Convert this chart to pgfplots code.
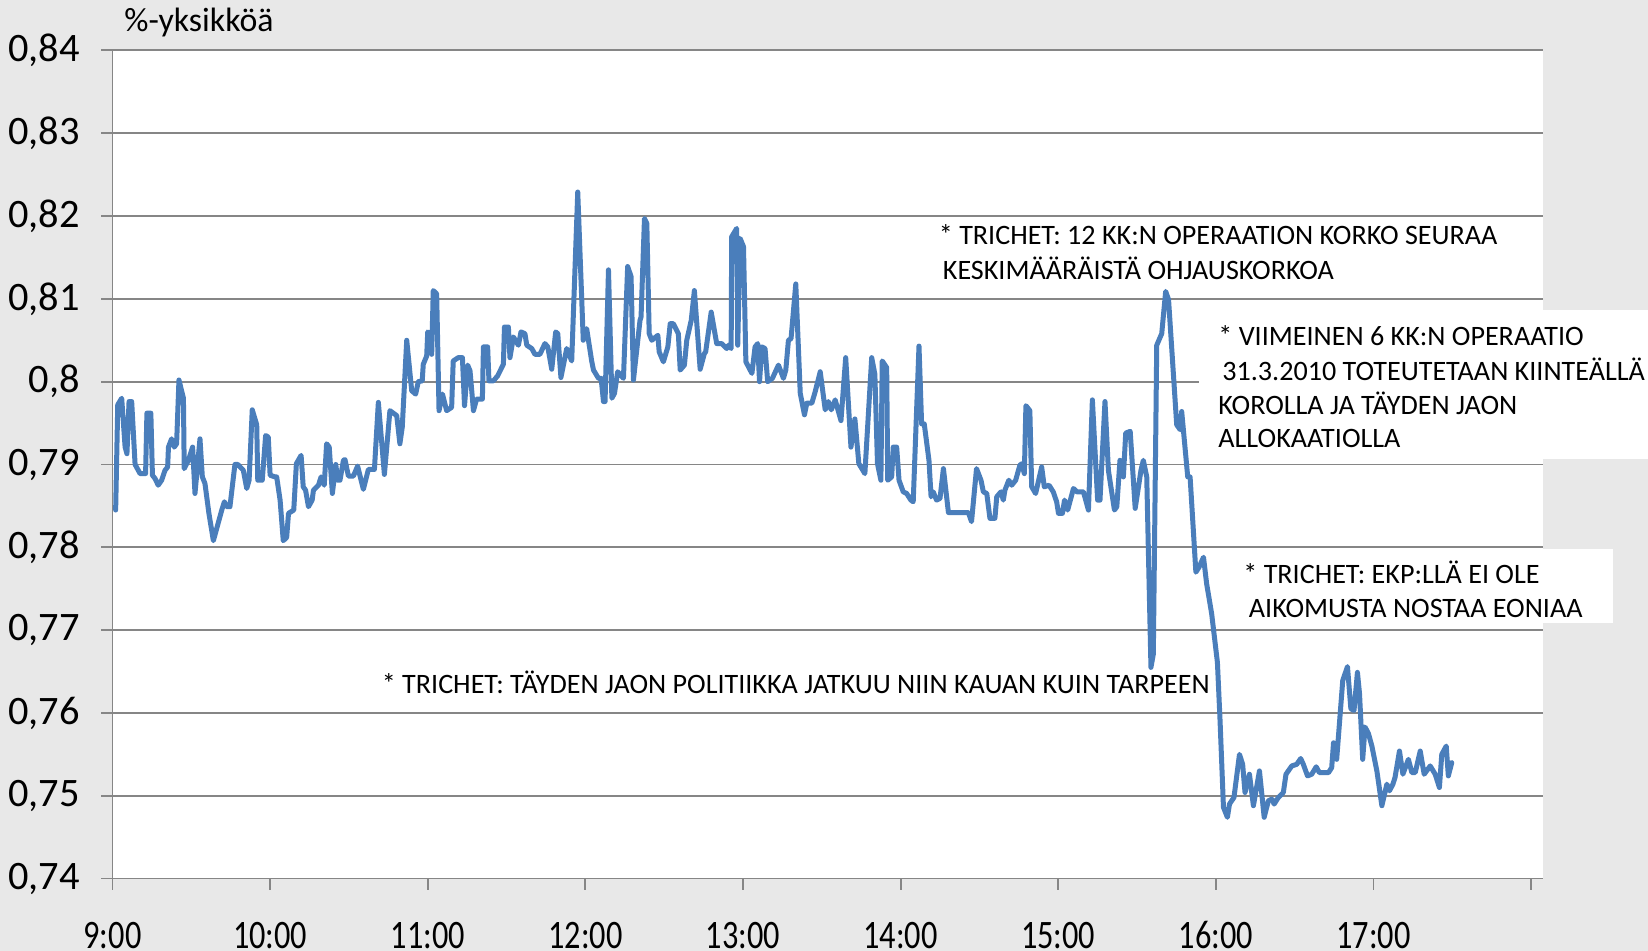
\documentclass[border=0pt]{standalone}
\usepackage{fontspec}
\setmainfont{Carlito}
\usepackage{graphicx}
\usepackage{pgfplots}
\pgfplotsset{compat=1.18}
\definecolor{bgc}{RGB}{232,232,232}
\definecolor{gridc}{RGB}{134,134,134}
\definecolor{linec}{RGB}{74,126,187}
\newcommand{\annfont}{\fontsize{14.05}{16.8}\selectfont}
\newcommand{\xl}[1]{\scalebox{0.8}[1]{#1}}
\begin{document}
\begin{tikzpicture}
\path[use as bounding box] (-56.25pt,-36.2pt) rectangle (767.75pt,439.3pt);
\fill[bgc] (-56.25pt,-36.2pt) rectangle (767.75pt,439.3pt);
\begin{axis}[
  at={(0pt,0pt)}, anchor=south west,
  scale only axis, width=715.2pt, height=414.1pt,
  xmin=0, xmax=544.5, ymin=0.74, ymax=0.84,
  axis lines*=left,
  axis line style={gridc, line width=0.9pt},
  axis background/.style={fill=white},
  ymajorgrids, major grid style={gridc, line width=0.9pt},
  tick align=outside, major tick length=5.5pt,
  tick style={gridc, line width=0.9pt},
  ytick={0.74,0.75,0.76,0.77,0.78,0.79,0.80,0.81,0.82,0.83,0.84},
  yticklabels={{0,74},{0,75},{0,76},{0,77},{0,78},{0,79},{0,8},{0,81},{0,82},{0,83},{0,84}},
  xtick={0,60,120,180,240,300,360,420,480,540},
  xticklabels={\xl{9:00},\xl{10:00},\xl{11:00},\xl{12:00},\xl{13:00},\xl{14:00},\xl{15:00},\xl{16:00},\xl{17:00},{}},
  ticklabel style={font=\fontsize{20.2}{24}\selectfont, text=black},
  yticklabel style={inner sep=0pt, xshift=-10.6pt},
  xticklabel style={inner sep=0pt, yshift=-16.5pt, text height=12.7pt, text depth=0pt},
  clip=false,
]
\addplot[linec, line width=2.5pt, line join=round, line cap=round] coordinates {
(1.2,0.7845) (2,0.7972) (3.5,0.798) (4.8,0.7921) (5.5,0.7913) (6.3,0.7976) (7.3,0.7976) (8.6,0.790)
(10.5,0.7889) (12.6,0.7889) (13.1,0.7962) (14.6,0.7962) (15.2,0.7887) (16.2,0.7883) (17.4,0.7875)
(18.7,0.7881) (20,0.7893) (21,0.7897) (21.3,0.7921) (22.5,0.7931) (23.5,0.7921) (24.4,0.7925)
(25.3,0.8002) (27,0.798) (27.3,0.7895) (28.9,0.7905) (30.5,0.7921) (31.4,0.7865) (33.3,0.7931)
(34.2,0.7885) (35.2,0.7877) (36.7,0.7841) (38.4,0.7808) (40.3,0.783) (41.6,0.7845) (42.6,0.7855)
(43.5,0.7849) (44.7,0.7849) (46.6,0.790) (47.7,0.790) (49.8,0.7893) (51.1,0.7871) (52,0.7881)
(53.2,0.7966) (54.9,0.7948) (55.3,0.7881) (57,0.7881) (58.3,0.7935) (59.3,0.7933) (60,0.7887)
(61.9,0.7885) (62.5,0.7885) (63.8,0.7857) (65,0.7808) (66.3,0.7812) (67,0.7841) (69,0.7845)
(70,0.7901) (71.8,0.7911) (72.6,0.7873) (73.5,0.7869) (74.6,0.7849) (76,0.7857) (76.5,0.7869)
(78.4,0.7875) (79.4,0.7885) (80.6,0.7875) (81.5,0.7925) (82.5,0.7921) (83.7,0.7865) (85,0.790)
(85.7,0.7881) (86.6,0.7881) (87.9,0.7905) (88.5,0.7906) (89.8,0.7886) (91.7,0.7886) (93.3,0.7898)
(95.5,0.787) (97.4,0.7894) (99.7,0.7894) (101.2,0.7975) (103.5,0.7888) (105.6,0.7965) (108.2,0.7959)
(109.4,0.7925) (110.3,0.7945) (112,0.805) (113.9,0.7989) (115.4,0.7985) (116.4,0.80) (117.9,0.8001)
(118.3,0.8021) (119.6,0.8031) (120,0.806) (120.9,0.8058) (121.5,0.8033) (122.1,0.811) (123.4,0.8106)
(124.3,0.7965) (125.6,0.7985) (127.2,0.7965) (129.1,0.7969) (129.7,0.8025) (131.6,0.8029)
(133.2,0.8029) (134,0.7971) (135.2,0.802) (136.1,0.8013) (137.4,0.7965) (138.6,0.7979) (140.8,0.7979)
(141.2,0.8042) (142.8,0.8042) (143.3,0.8001) (145,0.8001) (146.6,0.8007) (148.8,0.8021) (149.2,0.8066)
(150.7,0.8066) (151.3,0.8029) (152.6,0.8054) (154.5,0.8044) (155.5,0.806) (157,0.8058) (157.7,0.8044)
(159.6,0.804) (160.8,0.8033) (162.7,0.8033) (164.6,0.8046) (165.7,0.8042) (167.2,0.8015) (168.7,0.806)
(169.5,0.8058) (170.7,0.8005) (172.9,0.804) (174.8,0.8025) (177.1,0.8229) (179.2,0.805) (180.5,0.8064)
(182.4,0.8025) (183.1,0.8014) (185,0.8004) (186,0.8004) (186.9,0.7976) (187.5,0.7976) (188.8,0.8135)
(190.1,0.798) (191.1,0.7986) (192.3,0.8012) (194.5,0.8004) (196.1,0.8139) (197.4,0.8127) (198.3,0.8002)
(200.8,0.8074) (201.2,0.8078) (202.5,0.8197) (203.4,0.8191) (204.3,0.8058) (205.3,0.805) (207.6,0.8056)
(208.1,0.8036) (209.7,0.8024) (211.4,0.8042) (212.3,0.807) (213.5,0.807) (215.4,0.8058) (216.1,0.8014)
(217.7,0.802) (218.6,0.805) (220.3,0.8074) (221.5,0.811) (223.7,0.8015) (225.3,0.8034) (225.8,0.8036)
(227.9,0.8084) (230,0.8046) (231.9,0.8046) (233.8,0.804) (234.5,0.8044) (235.5,0.804) (235.7,0.8175)
(237.6,0.8185) (238,0.8044) (238.9,0.8173) (240.2,0.8163) (241.1,0.8024) (243.4,0.801) (244.6,0.8042)
(245.6,0.8046) (246.3,0.80) (247.2,0.8042) (248.4,0.804) (249.4,0.80) (251.2,0.8004) (253.5,0.802)
(255.4,0.8004) (256.3,0.8014) (257.3,0.805) (258.3,0.8052) (260.1,0.8118) (261.8,0.7986) (263.4,0.796)
(264.3,0.7974) (266.2,0.7974) (267.5,0.7988) (269.4,0.8012) (271.3,0.7966) (272.5,0.7976) (273.6,0.7966)
(275.1,0.7978) (277.3,0.7953) (279.1,0.8029) (281.1,0.7921) (282.6,0.7955) (284.1,0.7901) (286.4,0.7889)
(289,0.8029) (290.2,0.8009) (291.2,0.7901) (292.5,0.7881) (293,0.8025) (294.7,0.8017) (295.1,0.7881)
(296.6,0.7885) (297.2,0.7921) (298.5,0.7921) (299.4,0.7881) (301,0.7867) (302.3,0.7865) (303.9,0.7857)
(304.8,0.7855) (307,0.8043) (308,0.7949) (309,0.7949) (310.8,0.7905) (311.6,0.7861) (312.4,0.7867)
(313.7,0.7857) (315,0.7859) (316.3,0.7895) (318.2,0.7842) (325.8,0.7842) (327,0.7831) (328.9,0.7895)
(330.6,0.7881) (331.5,0.7867) (332.8,0.7865) (334,0.7835) (335.9,0.7835) (336.6,0.7861) (338.2,0.7867)
(339.1,0.7857) (339.7,0.7869) (341.2,0.7881) (342.3,0.7875) (343.8,0.7881) (345.4,0.7899) (346.1,0.7901)
(347.1,0.7889) (347.7,0.7971) (349.2,0.7965) (349.9,0.7873) (351.4,0.7865) (353.7,0.7897) (354.7,0.7873)
(356.5,0.7875) (358.1,0.7867) (359.4,0.7855) (360.1,0.7841) (361.6,0.7841) (362.4,0.7857) (363.6,0.7845)
(365.8,0.7871) (367.1,0.7867) (369.6,0.7867) (371.5,0.7845) (373,0.7978) (375,0.7857) (375.9,0.7857)
(377.8,0.7976) (379.1,0.7893) (381.4,0.7845) (382.3,0.7849) (383.5,0.7905) (384.8,0.7885) (385.7,0.7938)
(387.4,0.794) (389.3,0.7847) (391.5,0.7893) (392.4,0.7905) (393.7,0.7885) (395.3,0.7655) (396.2,0.7671)
(397.5,0.8044) (399.4,0.8058) (400.9,0.8109) (402,0.8099) (405.1,0.7948) (406.4,0.7942) (407,0.7964)
(409.3,0.7885) (410.2,0.7885) (412.4,0.777) (413.6,0.7776) (415.3,0.7788) (416.5,0.7756) (418.4,0.772)
(420.6,0.7661) (421.6,0.7591) (422.9,0.7486) (424.4,0.7474) (425.2,0.749) (426.9,0.7498) (429,0.755)
(430.2,0.7538) (431.1,0.7504) (432.8,0.7526) (434.3,0.7488) (436.6,0.753) (438.4,0.7474) (440,0.7494)
(441.3,0.7496) (442.2,0.749) (443.8,0.7498) (445.7,0.7504) (446.7,0.7526) (448.9,0.7536) (450.8,0.7538)
(452.3,0.7545) (453.3,0.7538) (454.9,0.7524) (456.5,0.7526) (458.2,0.7535) (459.4,0.7528) (462.9,0.7528)
(464.1,0.7534) (464.8,0.7564) (466,0.7544) (468.3,0.7639) (470.1,0.7656) (471.4,0.7605) (472.6,0.7603)
(473.9,0.7649) (474.7,0.7623) (475.9,0.7544) (476.8,0.7583) (478.1,0.7575) (479.4,0.756) (481.3,0.753)
(483.2,0.7488) (485.1,0.7514) (486.1,0.7506) (487.4,0.7514) (488.2,0.7522) (489.9,0.7554) (491.2,0.7526)
(493.3,0.7544) (494.6,0.7528) (495.9,0.7528) (497.8,0.7554) (499.3,0.7526) (501.6,0.7536) (503.5,0.7526)
(505.1,0.751) (506,0.755) (507.7,0.756) (508.5,0.7524) (509.8,0.754)
};
\end{axis}
% title
\node[anchor=base west, inner sep=0pt, font=\fontsize{16.9}{20}\selectfont] at (5.75pt,423.55pt) {\%-yksikköä};
% annotation 1
\node[anchor=base west, inner sep=0pt, font=\annfont] at (413pt,316.8pt) {* TRICHET: 12 KK:N OPERAATION KORKO SEURAA};
\node[anchor=base west, inner sep=0pt, font=\annfont] at (415pt,299.5pt) {KESKIMÄÄRÄISTÄ OHJAUSKORKOA};
% annotation 2
\fill[white] (543.25pt,209.8pt) rectangle (767.75pt,284.3pt);
\node[anchor=base west, inner sep=0pt, font=\annfont] at (552.75pt,266.4pt) {* VIIMEINEN 6 KK:N OPERAATIO};
\node[anchor=base west, inner sep=0pt, font=\annfont] at (554.75pt,249.05pt) {31.3.2010 TOTEUTETAAN KIINTEÄLLÄ};
\node[anchor=base west, inner sep=0pt, font=\annfont] at (552.75pt,232.25pt) {KOROLLA JA TÄYDEN JAON};
\node[anchor=base west, inner sep=0pt, font=\annfont] at (552.75pt,215.45pt) {ALLOKAATIOLLA};
% annotation 3
\fill[white] (559.75pt,127.8pt) rectangle (750.25pt,164.8pt);
\node[anchor=base west, inner sep=0pt, font=\annfont] at (565.25pt,147.65pt) {* TRICHET: EKP:LLÄ EI OLE};
\node[anchor=base west, inner sep=0pt, font=\annfont] at (568pt,130.3pt) {AIKOMUSTA NOSTAA EONIAA};
% annotation 4
\node[anchor=base west, inner sep=0pt, font=\annfont] at (134.5pt,92.5pt) {* TRICHET: TÄYDEN JAON POLITIIKKA JATKUU NIIN KAUAN KUIN TARPEEN};
\end{tikzpicture}
\end{document}
